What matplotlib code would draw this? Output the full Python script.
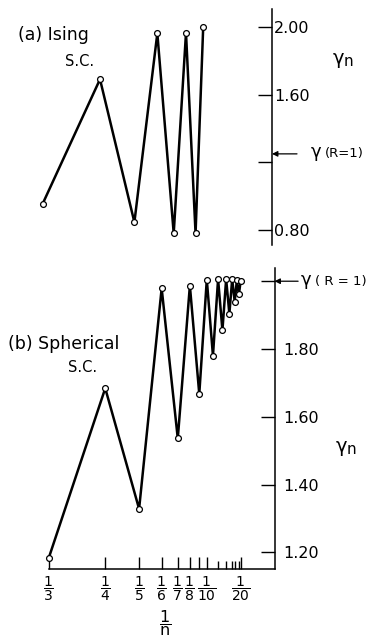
import matplotlib
matplotlib.use('Agg')
import matplotlib.pyplot as plt

# (a) Ising s.c. -- gamma_n against 1/n
n_ising = [3, 4, 5, 6, 7, 8, 9, 10]
gamma_ising = [0.955, 1.691, 0.846, 1.963, 0.78, 1.966, 0.78, 2.00]
gamma_ising_exact = 1.25

# (b) Spherical s.c.
n_sph = [3, 4, 5, 6, 7, 8, 9, 10, 11, 12, 13, 14, 15, 16, 17, 18, 19, 20]
gamma_sph = [1.184, 1.684, 1.328, 1.979, 1.536, 1.987, 1.667, 2.005, 1.78,
             2.006, 1.855, 2.006, 1.904, 2.006, 1.94, 2.003, 1.961, 2.00]
gamma_sph_exact = 2.00

yticks_a = [0.80, 1.20, 1.60, 2.00]
ylabels_a = ['0.80', '', '1.60', '2.00']
yticks_b = [1.20, 1.40, 1.60, 1.80, 2.00]
ylabels_b = ['1.20', '1.40', '1.60', '1.80', '']
xtick_n = [3, 4, 5, 6, 7, 8, 9, 10, 20]
xtick_lab = ['3', '4', '5', '6', '7', '8', '', '10', '20']
xminor_n = [12, 14, 16, 17, 19]

W, H = 369, 638
fig = plt.figure(figsize=(W / 100, H / 100), dpi=100)


def ftext(x, y, s, **kw):
    # place text by pixel position (from top-left)
    kw.setdefault('va', 'center')
    kw.setdefault('ha', 'left')
    fig.text(x / W, 1 - y / H, s, **kw)


line_kw = dict(color='black', lw=1.8, marker='o', markersize=4.2,
               markerfacecolor='white', markeredgecolor='black',
               markeredgewidth=0.9, clip_on=False, zorder=3)
arrow_kw = dict(arrowstyle='-|>', color='black', lw=0.9,
                mutation_scale=8, shrinkA=0, shrinkB=0)

# ---- panel (a)
ax_a = fig.add_axes([0, 1 - 245 / H, 1, 236 / H])
ax_a.set_xlim(272 / 688, -97 / 688)
ax_a.set_ylim(0.7113, 2.1064)
ax_a.plot([1 / n for n in n_ising], gamma_ising, **line_kw)
for s in ['left', 'top', 'bottom']:
    ax_a.spines[s].set_visible(False)
ax_a.spines['right'].set_position(('data', 0))
ax_a.spines['right'].set_linewidth(1.1)
ax_a.set_xticks([])
ax_a.yaxis.set_ticks_position('right')
ax_a.set_yticks(yticks_a)
ax_a.set_yticklabels(ylabels_a)
ax_a.tick_params(axis='y', direction='in', length=10, width=1.0, pad=1.5,
                 labelsize=11.5)
ax_a.patch.set_visible(False)
ax_a.annotate('', xy=(0, gamma_ising_exact), xytext=(18, 0),
              textcoords='offset points', arrowprops=arrow_kw)

# ---- panel (b)
ax_b = fig.add_axes([0, 1 - 569.3 / H, 1, 301.3 / H])
ax_b.set_xlim(274.5 / 677, -94.5 / 677)
ax_b.set_ylim(1.1498, 2.039)
ax_b.plot([1 / n for n in n_sph], gamma_sph, **line_kw)
for s in ['left', 'top']:
    ax_b.spines[s].set_visible(False)
ax_b.spines['right'].set_position(('data', 0))
ax_b.spines['right'].set_linewidth(1.1)
ax_b.spines['bottom'].set_bounds(0, 1 / 3)
ax_b.spines['bottom'].set_linewidth(1.1)
ax_b.yaxis.set_ticks_position('right')
ax_b.set_yticks(yticks_b)
ax_b.set_yticklabels(ylabels_b)
ax_b.tick_params(axis='y', direction='in', length=10, width=1.0, pad=6,
                 labelsize=11.5)
ax_b.set_xticks([1 / n for n in xtick_n])
ax_b.set_xticklabels([r'$\dfrac{1}{%s}$' % t if t else '' for t in xtick_lab])
ax_b.set_xticks([1 / n for n in xminor_n], minor=True)
ax_b.tick_params(axis='x', which='major', direction='in', length=9,
                 width=1.0, pad=4, labelsize=10)
ax_b.tick_params(axis='x', which='minor', direction='in', length=6, width=1.0)
ax_b.patch.set_visible(False)
ax_b.annotate('', xy=(0, gamma_sph_exact), xytext=(17, 0),
              textcoords='offset points', arrowprops=arrow_kw)

# ---- labels
ftext(18, 35, '(a) Ising', fontsize=12.5)
ftext(65, 62, 'S.C.', fontsize=10.5)
ftext(333, 59, 'γ', fontsize=14)
ftext(344, 62, 'n', fontsize=11)
ftext(311, 152, 'γ', fontsize=13)
ftext(325, 154, '(R=1)', fontsize=9.5)

ftext(8, 344, '(b) Spherical', fontsize=12.5)
ftext(68, 368, 'S.C.', fontsize=10.5)
ftext(336, 447, 'γ', fontsize=14)
ftext(347, 450, 'n', fontsize=11)
ftext(301, 280, 'γ', fontsize=13)
ftext(315, 282, '( R = 1)', fontsize=9.5)

ftext(165, 623, r'$\dfrac{1}{\mathrm{n}}$', fontsize=11.5, ha='center')

fig.savefig('out.png', dpi=100)
